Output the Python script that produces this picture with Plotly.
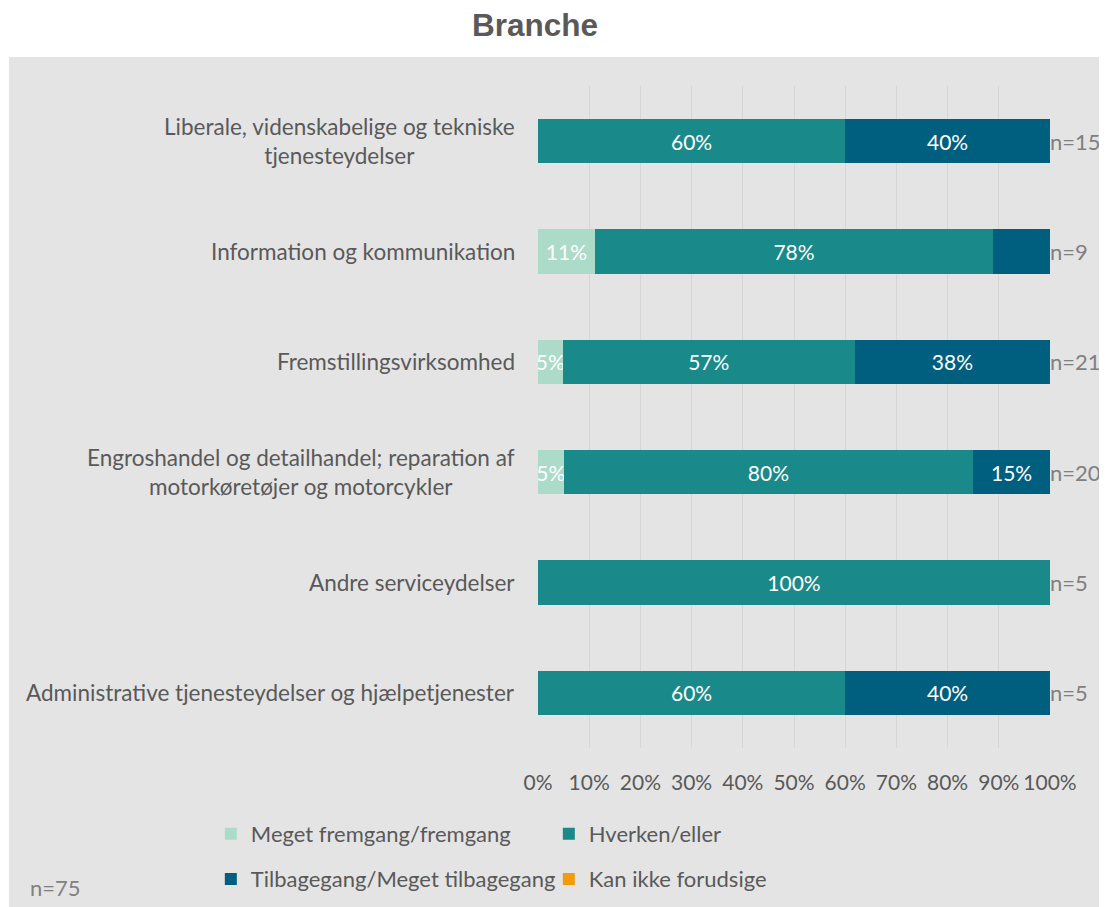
import plotly.graph_objects as go

# ---------------------------------------------------------------------------
# data
# ---------------------------------------------------------------------------

categories = [
    "Liberale, videnskabelige og tekniske<br>tjenesteydelser",
    "Information og kommunikation",
    "Fremstillingsvirksomhed",
    "Engroshandel og detailhandel; reparation af<br>motorkøretøjer og motorcykler",
    "Andre serviceydelser",
    "Administrative tjenesteydelser og hjælpetjenester",
]
n_counts = [15, 9, 21, 20, 5, 5]

series_names = [
    "Meget fremgang/fremgang",
    "Hverken/eller",
    "Tilbagegang/Meget tilbagegang",
    "Kan ikke forudsige",
]
fremgang = [0, 11.1, 4.8, 5, 0, 0]
hverken = [60, 77.8, 57.1, 80, 100, 60]
tilbagegang = [40, 11.1, 38.1, 15, 0, 40]
kan_ikke = [0, 0, 0, 0, 0, 0]

# label not shown in the original (series index, category index)
hidden_labels = [(2, 1)]

total_n = 75

colors = ["#acdbc9", "#19898a", "#005e7e", "#f29b0c"]
text_color = "#595959"
n_color = "#808080"
bg = "#e4e4e4"
grid = "#d6d6d6"
font = "Lato"

# ---------------------------------------------------------------------------
# figure
# ---------------------------------------------------------------------------

fig = go.Figure()
all_values = [fremgang, hverken, tilbagegang, kan_ikke]
for si, (name, vals, col) in enumerate(zip(series_names, all_values, colors)):
    labels = []
    for ci, v in enumerate(vals):
        if v <= 0 or (si, ci) in hidden_labels:
            labels.append("")
        else:
            labels.append(f"{v:.0f}%")
    fig.add_trace(go.Bar(
        y=categories, x=vals, name=name, orientation="h",
        marker=dict(color=col, line=dict(width=0)),
        text=labels, textposition="inside", insidetextanchor="middle",
        constraintext="none", textangle=0,
        textfont=dict(family=font, size=21, color="white"),
        width=0.4, hoverinfo="skip",
        legend="legend" if si < 2 else "legend2",
    ))

# category labels, centred multi-line like the original
for cat in categories:
    fig.add_annotation(
        x=-0.041, xref="paper", y=cat, yref="y", text=cat,
        xanchor="right", align="center", showarrow=False,
        font=dict(family=font, size=22.5, color=text_color),
    )

# n= per row
for cat, n in zip(categories, n_counts):
    fig.add_annotation(
        x=100, xref="x", y=cat, yref="y", text=f"n={n}",
        xanchor="left", showarrow=False, xshift=-2,
        font=dict(family=font, size=22, color=n_color),
    )

fig.add_annotation(
    x=-0.996, xref="paper", y=-0.21, yref="paper", text=f"n={total_n}",
    xanchor="left", yanchor="middle", showarrow=False,
    font=dict(family=font, size=22, color=n_color),
)

# grey chart area
fig.add_shape(
    type="rect", xref="paper", yref="paper",
    x0=-1.0332, x1=1.12, y0=-0.26, y1=1.0438,
    fillcolor=bg, line=dict(width=0), layer="below",
)

legend_common = dict(
    orientation="h", xanchor="left", yanchor="middle",
    entrywidth=293, entrywidthmode="pixels",
    bgcolor="rgba(0,0,0,0)", itemclick=False,
    font=dict(family=font, size=22, color=text_color),
    traceorder="normal",
)

# page body adds an 8px offset, so margins are shifted up/left by 8px
fig.update_layout(
    width=1107, height=907,
    margin=dict(l=530, r=65, t=78, b=167),
    paper_bgcolor="white", plot_bgcolor="rgba(0,0,0,0)",
    barmode="stack", bargap=0.6,
    title=dict(
        text="<b>Branche</b>", x=527 / 1107, xanchor="center",
        y=1 - 17 / 907, yanchor="middle",
        font=dict(family="Liberation Sans", size=31.5, color=text_color),
    ),
    xaxis=dict(
        range=[0, 100], dtick=10, ticksuffix="%",
        showgrid=True, gridcolor=grid, gridwidth=1,
        zeroline=False, showline=False,
        ticks="outside", ticklen=16, tickcolor="rgba(0,0,0,0)",
        tickfont=dict(family=font, size=21, color=text_color),
        fixedrange=True,
    ),
    yaxis=dict(
        autorange="reversed", showticklabels=False,
        showgrid=False, zeroline=False, fixedrange=True,
    ),
    legend=dict(x=-0.639, y=-0.130, **legend_common),
    legend2=dict(x=-0.639, y=-0.198, **legend_common),
    showlegend=True,
)

fig.write_html("out.html")
